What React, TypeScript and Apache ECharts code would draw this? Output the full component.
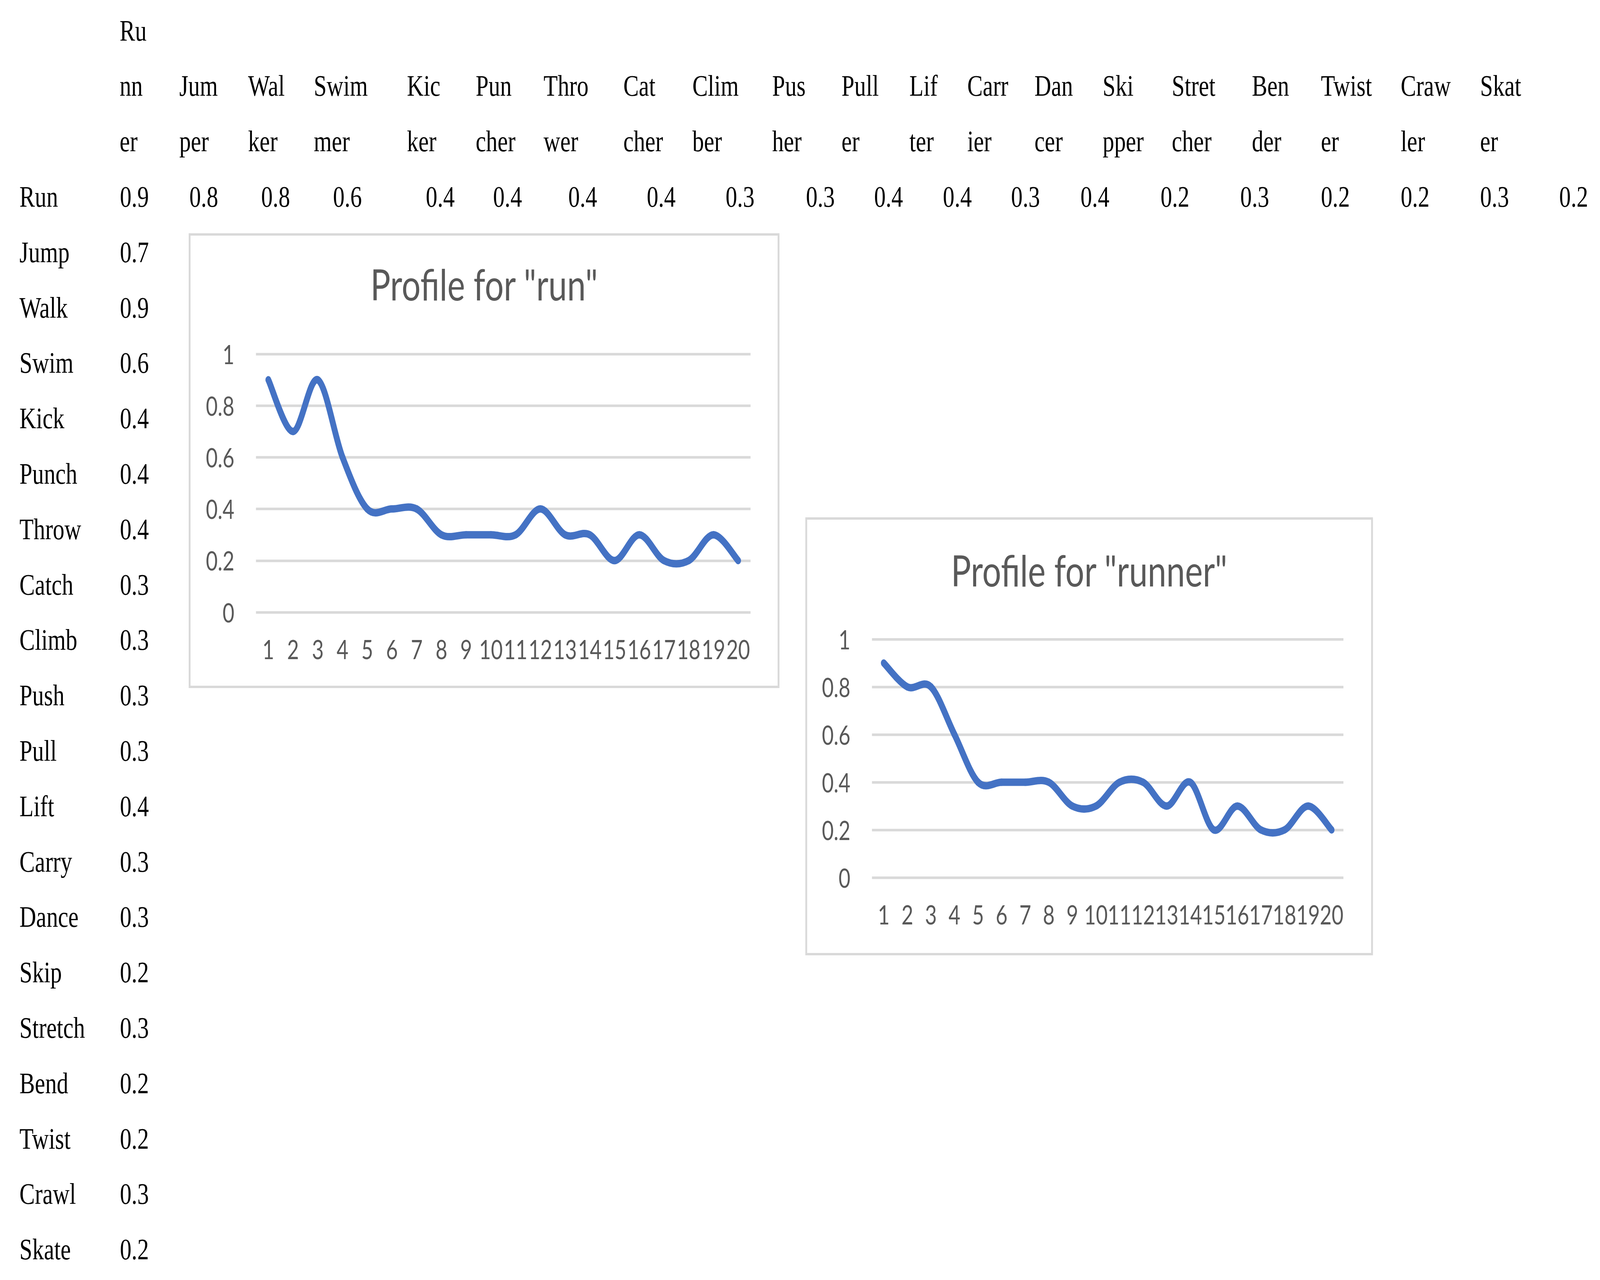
import React, { useEffect, useRef, useState } from "react";
import * as echarts from "echarts";

// ---------- data ----------
const rowLabels = ["Run", "Jump", "Walk", "Swim", "Kick", "Punch", "Throw", "Catch", "Climb", "Push", "Pull", "Lift", "Carry", "Dance", "Skip", "Stretch", "Bend", "Twist", "Crawl", "Skate"];
const headerParts = [["Ru", "nn", "er"], ["Jum", "per"], ["Wal", "ker"], ["Swim", "mer"], ["Kic", "ker"], ["Pun", "cher"], ["Thro", "wer"], ["Cat", "cher"], ["Clim", "ber"], ["Pus", "her"], ["Pull", "er"], ["Lif", "ter"], ["Carr", "ier"], ["Dan", "cer"], ["Ski", "pper"], ["Stret", "cher"], ["Ben", "der"], ["Twist", "er"], ["Craw", "ler"], ["Skat", "er"]];
const runnerColumn = [0.9, 0.7, 0.9, 0.6, 0.4, 0.4, 0.4, 0.3, 0.3, 0.3, 0.3, 0.4, 0.3, 0.3, 0.2, 0.3, 0.2, 0.2, 0.3, 0.2];
const runRow = [0.9, 0.8, 0.8, 0.6, 0.4, 0.4, 0.4, 0.4, 0.3, 0.3, 0.4, 0.4, 0.3, 0.4, 0.2, 0.3, 0.2, 0.2, 0.3, 0.2];
const categories = ["1", "2", "3", "4", "5", "6", "7", "8", "9", "10", "11", "12", "13", "14", "15", "16", "17", "18", "19", "20"];
const chartTitles = ['Profile for "run"', 'Profile for "runner"'];

// ---------- layout (reference pixels) ----------
const W = 5257;
const H = 3276;
const TABLE_FONT = "'Liberation Serif', 'Times New Roman', serif";
const CHART_FONT = "Lato, 'Noto Sans', sans-serif";
const TABLE_FS = 76;
const ROW_BASE = 529;
const ROW_STEP = 141.8;
const LABEL_X = 64;
const HEADER_X = [393, 589, 815, 1031, 1337, 1563, 1786, 2048, 2275, 2537, 2765, 2988, 3178, 3399, 3623, 3850, 4113, 4340, 4602, 4863];
const RUNROW_X = [394, 622, 858, 1094, 1399, 1620, 1867, 2125, 2384, 2648, 2872, 3098, 3322, 3550, 3813, 4075, 4340, 4602, 4863, 5123];

const BOXES = [
  { x: 623, y: 600, w: 1935, h: 1158 },
  { x: 2649, y: 1327, w: 1859, h: 1115 },
];
const GRIDS = [
  { left: 841, top: 906, width: 1625, height: 661, yMargin: 71, titleY: 727 },
  { left: 2865, top: 1636, width: 1549, height: 610, yMargin: 71, titleY: 1459 },
];

function buildOption() {
  const tableText = (text: string, x: number, baseline: number) => ({
    type: "text",
    x,
    y: baseline - 0.3375 * TABLE_FS,
    silent: true,
    style: {
      text,
      fill: "#000000",
      font: `${TABLE_FS}px ${TABLE_FONT}`,
      align: "left",
      verticalAlign: "middle",
    },
  });

  const graphics: any[] = [];
  headerParts.forEach((parts, ci) => {
    const startLine = 3 - parts.length;
    parts.forEach((p, j) => {
      const line = startLine + j;
      graphics.push(tableText(p, HEADER_X[ci], ROW_BASE - ROW_STEP * (3 - line)));
    });
  });
  rowLabels.forEach((lab, ri) => graphics.push(tableText(lab, LABEL_X, ROW_BASE + ROW_STEP * ri)));
  runRow.forEach((v, ci) => graphics.push(tableText(String(v), RUNROW_X[ci], ROW_BASE)));
  runnerColumn.forEach((v, ri) => {
    if (ri > 0) graphics.push(tableText(String(v), RUNROW_X[0], ROW_BASE + ROW_STEP * ri));
  });

  BOXES.forEach((b, i) => {
    graphics.push({
      type: "rect",
      z: -10,
      silent: true,
      shape: { x: b.x, y: b.y, width: b.w, height: b.h },
      style: { fill: "#ffffff", stroke: "#d9d9d9", lineWidth: 6 },
    });
    graphics.push({
      type: "text",
      x: b.x + b.w / 2,
      y: GRIDS[i].titleY,
      silent: true,
      style: {
        text: chartTitles[i],
        fill: "#595959",
        font: `110px ${CHART_FONT}`,
        align: "center",
        verticalAlign: "middle",
      },
    });
  });

  const seriesData = [runnerColumn, runRow];

  // Excel-style smoothed line: Catmull-Rom segments between library-mapped points
  const makeRender = (values: number[]) => (params: any, api: any) => {
    const i = params.dataIndex;
    const n = values.length;
    if (i >= n - 1) return null;
    const c = (j: number) => api.coord([j, values[j]]);
    const p0 = c(Math.max(0, i - 1));
    const p1 = c(i);
    const p2 = c(i + 1);
    const p3 = c(Math.min(n - 1, i + 2));
    return {
      type: "bezierCurve",
      shape: {
        x1: p1[0],
        y1: p1[1],
        cpx1: p1[0] + (p2[0] - p0[0]) / 6,
        cpy1: p1[1] + (p2[1] - p0[1]) / 6,
        cpx2: p2[0] - (p3[0] - p1[0]) / 6,
        cpy2: p2[1] - (p3[1] - p1[1]) / 6,
        x2: p2[0],
        y2: p2[1],
      },
      style: { stroke: "#4472C4", lineWidth: 19, fill: "none", lineCap: "round", lineJoin: "round" },
    };
  };

  return {
    animation: false,
    backgroundColor: "#ffffff",
    graphic: { elements: graphics },
    grid: GRIDS.map((g) => ({ left: g.left, top: g.top, width: g.width, height: g.height, containLabel: false })),
    xAxis: GRIDS.map((g, i) => ({
      type: "category",
      gridIndex: i,
      data: categories,
      boundaryGap: true,
      axisLine: { show: false },
      axisTick: { show: false },
      axisLabel: {
        interval: 0,
        margin: 61,
        color: "#595959",
        fontFamily: CHART_FONT,
        fontSize: 67,
        lineHeight: 67,
      },
    })),
    yAxis: GRIDS.map((g, i) => ({
      type: "value",
      gridIndex: i,
      min: 0,
      max: 1,
      interval: 0.2,
      axisLine: { show: false },
      axisTick: { show: false },
      axisLabel: {
        margin: g.yMargin,
        color: "#595959",
        fontFamily: CHART_FONT,
        fontSize: 67,
      },
      splitLine: { show: true, lineStyle: { color: "#d9d9d9", width: 6.5 } },
    })),
    series: seriesData.map((d, i) => ({
      type: "custom",
      xAxisIndex: i,
      yAxisIndex: i,
      data: d.map((v, j) => [j, v]),
      renderItem: makeRender(d),
      clip: false,
      z: 5,
    })),
  };
}

export default function App() {
  const ref = useRef<HTMLDivElement>(null);
  const [scale] = useState(() => {
    const vw = window.innerWidth || W;
    const vh = window.innerHeight || H;
    return { sx: vw / W, sy: vh / H };
  });
  useEffect(() => {
    document.body.style.margin = "0";
    document.body.style.overflow = "hidden";
    if (!ref.current) return;
    const chart = echarts.init(ref.current, undefined, { renderer: "svg", width: W, height: H });
    chart.setOption(buildOption() as any);
    return () => {
      chart.dispose();
    };
  }, []);
  return (
    <div
      ref={ref}
      style={{
        position: "absolute",
        left: 0,
        top: 0,
        width: W,
        height: H,
        background: "#ffffff",
        transformOrigin: "0 0",
        transform: `scale(${scale.sx}, ${scale.sy})`,
      }}
    />
  );
}
